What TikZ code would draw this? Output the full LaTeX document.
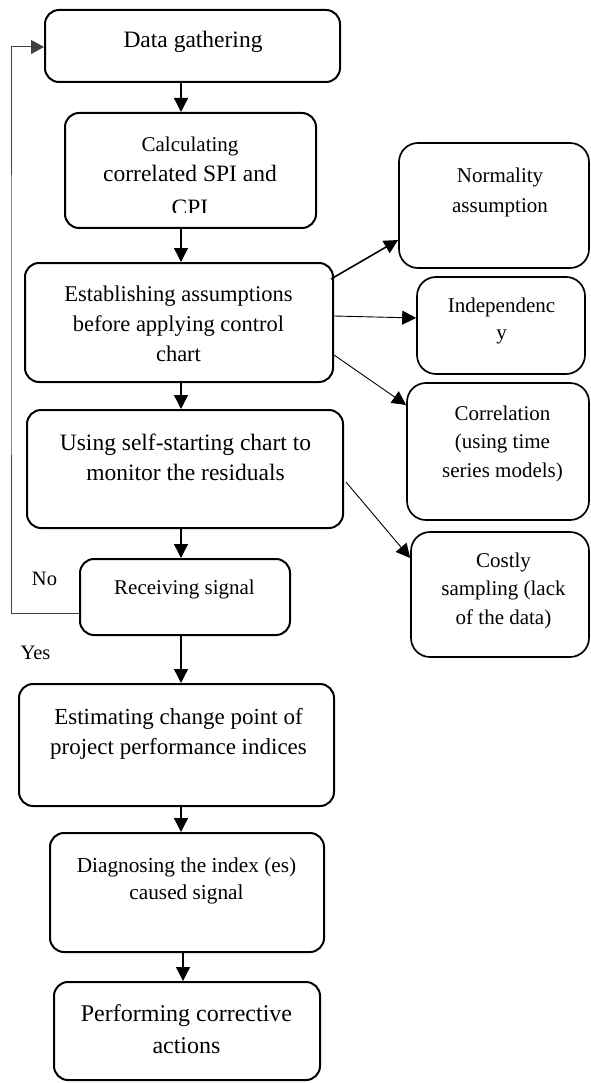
\documentclass[tikz,border=0pt]{standalone}
\usepackage{fontspec}
\setmainfont{Liberation Serif}
\usetikzlibrary{arrows.meta,calc}
\newcommand\fsz[2]{\fontsize{#1}{#2}\selectfont}
\begin{document}
\begin{tikzpicture}[x=1pt,y=-1pt,
  box/.style={draw, line width=2pt, rounded corners=14pt, inner sep=0pt},
  rbox/.style={draw, line width=1.7pt, rounded corners=19pt, inner sep=0pt},
  txt/.style={align=center, inner sep=0pt, anchor=base},
  arr/.style={-{Triangle[length=14pt,width=14pt]}, line width=1.3pt},
  arrthin/.style={-{Triangle[length=14pt,width=14pt]}, line width=0.9pt},
  fb/.style={-{Triangle[length=13pt,width=14pt]}, line width=1pt, draw=black!75}]
\useasboundingbox (0,0) rectangle (590,1083);
% main column boxes
\node[box, minimum width=295pt, minimum height=72pt]  (b1) at (192.5,46) {};
\node[box, minimum width=251pt, minimum height=115pt] (b2) at (190.5,170.5) {};
\node[box, minimum width=308pt, minimum height=119pt] (b3) at (179,322.5) {};
\node[box, minimum width=316pt, minimum height=118pt] (b4) at (185,469) {};
\node[box, minimum width=210pt, minimum height=76pt]  (b5) at (185,597) {};
\node[box, minimum width=315pt, minimum height=122pt] (b6) at (176.5,745) {};
\node[box, minimum width=274pt, minimum height=119pt] (b7) at (187,892.5) {};
\node[box, minimum width=266pt, minimum height=98pt]  (b8) at (187,1031) {};
% right boxes
\node[rbox, minimum width=190pt, minimum height=125pt] (r1) at (494,205.5) {};
\node[rbox, minimum width=168pt, minimum height=97pt]  (r2) at (501,325.5) {};
\node[rbox, minimum width=182pt, minimum height=137pt] (r3) at (498,451.5) {};
\node[rbox, minimum width=178pt, minimum height=125pt] (r4) at (500,594.5) {};
% texts (base anchor = baseline of the last line)
\node[txt, font=\fsz{23.5}{30}] (t1) at (193,48) {Data gathering};
\begin{scope}
\clip (65,113) rectangle (316,213);
\node[txt, font=\fsz{21}{28}] (t2a) at (190,152) {Calculating};
\node[txt, font=\fsz{23.5}{34}] (t2b) at (190,216) {correlated SPI and\\CPI};
\end{scope}
\node[txt, font=\fsz{22.5}{30}] (t3) at (178.5,361) {Establishing assumptions\\before applying control\\chart};
\node[txt, font=\fsz{23.5}{30}] (t4) at (185.5,480) {Using self-starting chart to\\monitor the residuals};
\node[txt, font=\fsz{21}{28}] (t5) at (184.5,594) {Receiving signal};
\node[txt, font=\fsz{23}{30}] (t6) at (178.5,754) {Estimating change point of\\project performance indices};
\node[txt, font=\fsz{21.3}{27}] (t7) at (186.5,899) {Diagnosing the index (es)\\caused signal};
\node[txt, font=\fsz{24}{32}] (t8) at (186.5,1053) {Performing corrective\\actions};
\node[txt, font=\fsz{21}{30}] (s1) at (500,213) {Normality\\assumption};
\node[txt, font=\fsz{21}{27}] (s2) at (501.5,339) {Independenc\\y};
\node[txt, font=\fsz{21}{28.5}] (s3) at (502.5,477) {Correlation\\(using time\\series models)};
\node[txt, font=\fsz{21}{28.5}] (s4) at (503.5,624) {Costly\\sampling (lack\\of the data)};
\node[txt, font=\fsz{20.5}{26}] (no) at (44.5,585) {No};
\node[txt, font=\fsz{20.5}{26}] (yes) at (35.5,659) {Yes};
% vertical arrows
\coordinate (ax) at (181,0);
\coordinate (ax2) at (183,0);
\draw[arr] (b1.south -| ax) -- (b2.north -| ax);
\draw[arr] (b2.south -| ax) -- (b3.north -| ax);
\draw[arr] (b3.south -| ax) -- (b4.north -| ax);
\draw[arr] (b4.south -| ax) -- (b5.north -| ax);
\draw[arr] (b5.south -| ax) -- (b6.north -| ax);
\draw[arr] (b6.south -| ax) -- (b7.north -| ax);
\draw[arr] (b7.south -| ax2) -- (b8.north -| ax2);
% side arrows
\draw[arr, line width=1.6pt] ([xshift=-3pt,yshift=43.5pt]b3.east) -- ([yshift=-34.5pt]r1.west);
\draw[arrthin] ([yshift=6.5pt]b3.east) -- ([yshift=7.5pt]r2.west);
\draw[arrthin] ([yshift=-32.5pt]b3.east) -- ([yshift=46.5pt]r3.west);
\draw[arrthin] ([xshift=2pt,yshift=-13pt]b4.east) -- ([yshift=36.5pt]r4.west);
% feedback loop
\coordinate (fbx) at (11,300);
\draw[fb] ([yshift=-16pt]b5.west) -| (fbx) |- ([yshift=-1pt]b1.west);
\end{tikzpicture}
\end{document}
